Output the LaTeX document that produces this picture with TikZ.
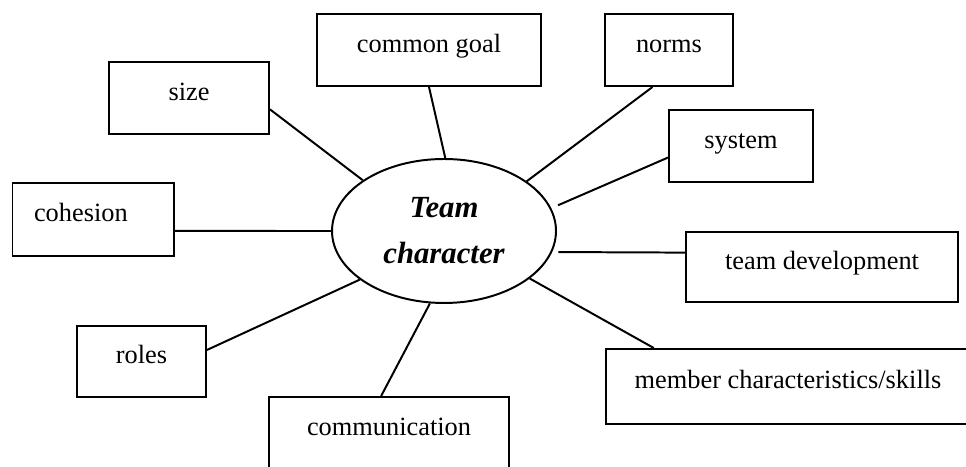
\documentclass[tikz,border=0pt]{standalone}
\usepackage{fontspec}
\setmainfont{Liberation Serif}
\usepackage{tikz}
\usetikzlibrary{shapes.geometric}

\begin{document}
\begin{tikzpicture}[
        line width=0.9pt,
        item/.style={rectangle, draw, font=\fontsize{12}{14}\selectfont, text height=8pt, text depth=6pt, inner sep=0pt},
        core/.style={ellipse, draw, font=\fontsize{14}{20.9}\selectfont\bfseries\itshape, align=center, minimum width=3.584cm, minimum height=2.304cm, inner sep=0pt}
    ]
            \useasboundingbox (0,0) rectangle (15.456,-7.472);

            % Nodes
            \node[core] (team) at (7.104, -3.696) {Team\\character};
            \node[item, minimum width=2.56cm, minimum height=1.152cm] (size) at (3.024, -1.568) {size};
            \node[item, minimum width=3.584cm, minimum height=1.152cm] (goal) at (6.864, -0.8) {common goal};
            \node[item, minimum width=2.048cm, minimum height=1.152cm] (norms) at (10.704, -0.8) {norms};
            \node[item, minimum width=2.304cm, minimum height=1.152cm] (system) at (11.856, -2.336) {system};
            \node[item, minimum width=2.584cm, minimum height=1.168cm, text width=1.896cm, inner xsep=0.344cm, align=left] (cohesion) at (1.492, -3.512) {cohesion};
            \node[item, minimum width=4.352cm, minimum height=1.12cm] (develop) at (13.152, -4.272) {team development};
            \node[item, minimum width=5.824cm, minimum height=1.2cm] (member) at (12.608, -6.184) {member characteristics/skills};
            \node[item, minimum width=2.064cm, minimum height=1.136cm] (roles) at (2.264, -5.784) {roles};
            \node[item, minimum width=3.84cm, minimum height=1.152cm] (comm) at (6.224, -6.928) {communication};

            % Edges
            \draw[-] (size.-8.5) -- (team.148.3);
            \draw[-] (goal.south) -- (team.89);
            \draw[-] (norms.-114) -- (team.31.4);
            \draw[-, shorten >=0.117cm] (system.189.5) -- (team.12.3);
            \draw[-, shorten >=0.1cm] (develop.174.1) -- (team.-11.7);
            \draw[-] (member.164.6) -- (team.-29.8);
            \draw[-] (comm.102.5) -- (team.-101.2);
            \draw[-] (roles.10.1) -- (team.210.1);
            \draw[-] (cohesion.-8.1) -- (team.180);

        \end{tikzpicture}
\end{document}
